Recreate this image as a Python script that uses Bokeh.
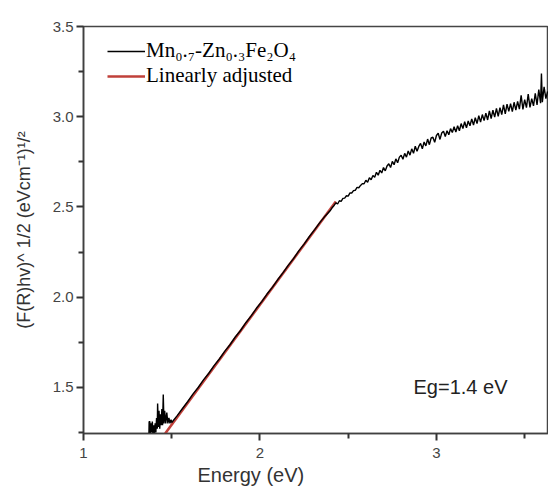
from bokeh.plotting import figure
from bokeh.models import Range1d, Legend, LegendItem, Label, Title, FixedTicker
from bokeh.embed import file_html
from bokeh.resources import INLINE

energy = [1.370, 1.372, 1.376, 1.378, 1.382, 1.386, 1.390, 1.394, 1.398, 1.402,
          1.406, 1.410, 1.414, 1.418, 1.420, 1.424, 1.428, 1.432, 1.436, 1.440,
          1.444, 1.448, 1.452, 1.456, 1.460, 1.466, 1.472, 1.478, 1.484, 1.490,
          1.496, 1.50, 1.53, 1.56, 1.59, 1.62, 1.65, 1.68, 1.71, 1.74,
          1.77, 1.80, 1.83, 1.86, 1.89, 1.92, 1.95, 1.98, 2.01, 2.04,
          2.07, 2.10, 2.13, 2.16, 2.19, 2.22, 2.25, 2.28, 2.31, 2.34,
          2.37,
          2.40, 2.41, 2.42, 2.43, 2.44, 2.45, 2.46, 2.47, 2.48, 2.49,
          2.50, 2.51, 2.52, 2.53, 2.54, 2.55, 2.56, 2.57, 2.58, 2.59,
          2.60, 2.61, 2.62, 2.63, 2.64, 2.65, 2.66, 2.67, 2.68, 2.69,
          2.70, 2.71, 2.72, 2.73, 2.74, 2.75, 2.76, 2.77, 2.78, 2.79,
          2.80, 2.81, 2.82, 2.83, 2.84, 2.85, 2.86, 2.87, 2.88, 2.89,
          2.90, 2.91, 2.92, 2.93, 2.94, 2.95, 2.96, 2.97, 2.98, 2.99,
          3.00, 3.01, 3.02, 3.03, 3.04, 3.05, 3.06, 3.07, 3.08, 3.09,
          3.10, 3.11, 3.12, 3.13, 3.14, 3.15, 3.16, 3.17, 3.18, 3.19,
          3.20, 3.21, 3.22, 3.23, 3.24, 3.25, 3.26, 3.27, 3.28, 3.29,
          3.30, 3.31, 3.32, 3.33, 3.34, 3.35, 3.36, 3.37, 3.38, 3.39,
          3.40, 3.41, 3.42, 3.43, 3.44, 3.45, 3.46, 3.47, 3.48, 3.49,
          3.50, 3.51, 3.52, 3.53, 3.54, 3.55, 3.56, 3.57, 3.58, 3.59,
          3.595, 3.60, 3.61, 3.62, 3.63]
signal = [1.20, 1.31, 1.31, 1.22, 1.30, 1.25, 1.31, 1.22, 1.29, 1.24,
          1.30, 1.25, 1.33, 1.27, 1.41, 1.28, 1.37, 1.27, 1.35, 1.29,
          1.38, 1.29, 1.46, 1.30, 1.37, 1.30, 1.36, 1.30, 1.33, 1.30,
          1.32, 1.305, 1.342, 1.381, 1.420, 1.462, 1.499, 1.541, 1.578, 1.620,
          1.657, 1.699, 1.736, 1.779, 1.815, 1.858, 1.896, 1.938, 1.975, 2.017,
          2.054, 2.096, 2.134, 2.176, 2.213, 2.256, 2.294, 2.336, 2.374, 2.414,
          2.450,
          2.482, 2.497, 2.508, 2.522, 2.516, 2.534, 2.531, 2.547, 2.549, 2.562,
          2.560, 2.578, 2.577, 2.590, 2.592, 2.608, 2.606, 2.619, 2.629, 2.628,
          2.648, 2.637, 2.662, 2.651, 2.674, 2.664, 2.692, 2.676, 2.703, 2.688,
          2.718, 2.700, 2.727, 2.739, 2.718, 2.752, 2.734, 2.766, 2.745, 2.776,
          2.786, 2.764, 2.797, 2.776, 2.810, 2.787, 2.822, 2.797, 2.836, 2.808,
          2.835, 2.852, 2.822, 2.860, 2.838, 2.876, 2.845, 2.882, 2.886, 2.858,
          2.896, 2.908, 2.874, 2.910, 2.920, 2.890, 2.922, 2.900, 2.934, 2.912,
          2.944, 2.915, 2.950, 2.922, 2.962, 2.934, 2.972, 2.938, 2.976, 2.950,
          2.988, 2.954, 2.994, 2.962, 3.006, 2.970, 3.012, 2.978, 3.020, 2.982,
          3.032, 2.990, 3.036, 2.998, 3.046, 3.002, 3.050, 3.012, 3.066, 3.016,
          3.070, 3.030, 3.072, 3.028, 3.080, 3.036, 3.085, 3.042, 3.118, 3.040,
          3.095, 3.050, 3.125, 3.052, 3.100, 3.060, 3.130, 3.066, 3.150, 3.075,
          3.240, 3.080, 3.165, 3.100, 3.140]

# Linear fit (end points)
fit_energy = [1.463, 2.43]
fit_signal = [1.244, 2.530]

x_ticks = [1, 2, 3]
x_minor = [1.5, 2.5, 3.5]
y_ticks = [1.5, 2.0, 2.5, 3.0, 3.5]
y_minor = [1.25, 1.75, 2.25, 2.75, 3.25]
y_tick_labels = {1.5: "1.5", 2.0: "2.0", 2.5: "2.5", 3.0: "3.0", 3.5: "3.5"}

p = figure(frame_width=465, frame_height=407, output_backend="svg", toolbar_location=None,
           x_range=Range1d(1, 3.635), y_range=Range1d(1.244, 3.5),
           min_border_left=83, min_border_top=26, min_border_bottom=0,
           min_border_right=0)

p.background_fill_color = "white"
p.border_fill_color = "white"
p.grid.visible = False
p.outline_line_color = "#454545"
p.outline_line_width = 1.5

axis_col = "#333333"
for ax in (p.xaxis[0], p.yaxis[0]):
    ax.axis_line_color = "#404040"
    ax.axis_line_width = 1.6
    ax.major_tick_line_color = axis_col
    ax.minor_tick_line_color = axis_col
    ax.major_tick_line_width = 2
    ax.minor_tick_line_width = 2
    ax.major_tick_in = 0
    ax.major_tick_out = 7
    ax.minor_tick_in = 0
    ax.minor_tick_out = 5
    ax.major_label_text_font = "Liberation Sans"
    ax.major_label_text_font_size = "15px"
    ax.major_label_text_color = "#444444"

p.xaxis[0].ticker = FixedTicker(ticks=x_ticks, minor_ticks=x_minor)
p.yaxis[0].ticker = FixedTicker(ticks=y_ticks, minor_ticks=y_minor)
p.yaxis[0].major_label_overrides = y_tick_labels
p.xaxis[0].major_label_standoff = 7
p.yaxis[0].major_label_standoff = 3

p.yaxis[0].axis_label = "(F(R)hv)^ 1/2 (eVcm\u207b\u00b9)\u00b9/\u00b2"
p.yaxis[0].axis_label_text_font = "Liberation Sans"
p.yaxis[0].axis_label_text_font_size = "18px"
p.yaxis[0].axis_label_text_font_style = "normal"
p.yaxis[0].axis_label_text_color = "#333333"
p.yaxis[0].axis_label_standoff = 16

p.add_layout(Title(text="Energy (eV)", align="left", offset=114, standoff=2,
                   text_font="Liberation Sans", text_font_size="20px",
                   text_font_style="normal", text_color="#333333"), "below")

r_fit = p.line(fit_energy, fit_signal, line_color="#c0403a", line_width=2.6)
r_data = p.line(energy, signal, line_color="black", line_width=1.4)

legend = Legend(items=[LegendItem(label="Mn\u2080.\u2087-Zn\u2080.\u2083Fe\u2082O\u2084", renderers=[r_data]),
                       LegendItem(label="Linearly adjusted", renderers=[r_fit])],
                location=(24, 345), padding=0, margin=0, spacing=0,
                glyph_width=38, glyph_height=24, label_height=24,
                label_standoff=1, border_line_color=None,
                background_fill_alpha=0,
                label_text_font="Liberation Serif", label_text_font_size="21px",
                label_text_color="black")
p.add_layout(legend)

p.add_layout(Label(x=2.87, y=1.5, text="Eg=1.4 eV", text_font="Liberation Sans",
                   text_font_size="20px", text_baseline="middle", text_color="#222222"))

open("out.html", "w").write(file_html(p, INLINE))
